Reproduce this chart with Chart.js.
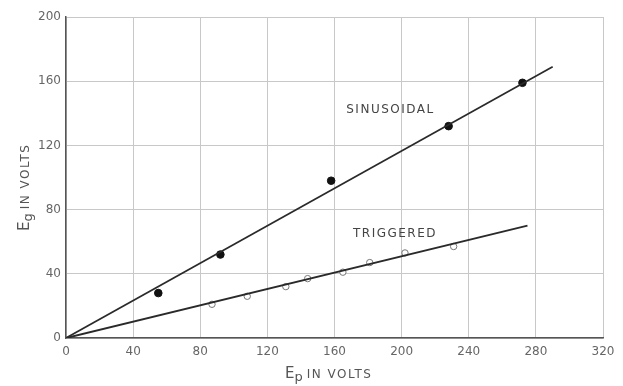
<!DOCTYPE html>
<html>
<head>
<meta charset="utf-8">
<script src="https://cdn.jsdelivr.net/npm/chart.js@4"></script>
<style>
  html, body { margin: 0; padding: 0; background: #fff; }
  #wrap { width: 623px; height: 386px; }
</style>
</head>
<body>
<div id="wrap"><canvas id="egChart"></canvas></div>
<script>
const sinusoidalEp = [55, 92, 158, 228, 272];
const sinusoidalEg = [28, 52, 98, 132, 159];
const triggeredEp = [87, 108, 131, 144, 165, 181, 202, 231];
const triggeredEg = [21, 26, 32, 37, 41, 47, 53, 57];

// straight fitted lines through the origin
const sinusoidalFitEp = [0, 290];
const sinusoidalFitEg = [0, 169];
const triggeredFitEp = [0, 275];
const triggeredFitEg = [0, 70];

const xTicks = [0, 40, 80, 120, 160, 200, 240, 280, 320];
const yTicks = [0, 40, 80, 120, 160, 200];

const toPoints = (xs, ys) => xs.map((x, i) => ({ x: x, y: ys[i] }));

const ink = '#555';
const font = '"DejaVu Sans", sans-serif';

// draws "E" + subscript + " IN VOLTS" starting at the current origin
function drawTitle(ctx, sub) {
  let x = 0;
  ctx.letterSpacing = '0px';
  ctx.font = '15px ' + font;
  ctx.fillText('E', x, 0);
  x += ctx.measureText('E').width;
  ctx.font = '13px ' + font;
  ctx.fillText(sub, x, 3);
  x += ctx.measureText(sub).width + 4;
  ctx.font = '12px ' + font;
  ctx.letterSpacing = '1.5px';
  ctx.fillText('IN VOLTS', x, 0);
}

// axis titles with subscripts + curve labels
const labelsPlugin = {
  id: 'labels',
  afterDraw(chart) {
    const ctx = chart.ctx;
    const xs = chart.scales.x, ys = chart.scales.y;

    ctx.save();
    ctx.fillStyle = ink;
    ctx.textBaseline = 'alphabetic';
    ctx.translate(285, 378);
    drawTitle(ctx, 'p');
    ctx.restore();

    ctx.save();
    ctx.fillStyle = ink;
    ctx.textBaseline = 'alphabetic';
    ctx.translate(29, 231);
    ctx.rotate(-Math.PI / 2);
    drawTitle(ctx, 'g');
    ctx.restore();

    ctx.save();
    ctx.fillStyle = '#444';
    ctx.font = '12px ' + font;
    ctx.letterSpacing = '1.5px';
    ctx.textBaseline = 'middle';
    ctx.fillText('SINUSOIDAL', xs.getPixelForValue(167), ys.getPixelForValue(142));
    ctx.fillText('TRIGGERED', xs.getPixelForValue(171), ys.getPixelForValue(65));
    ctx.restore();
  }
};

const config = {
  type: 'scatter',
  data: {
    datasets: [
      {
        label: 'Sinusoidal fit',
        data: toPoints(sinusoidalFitEp, sinusoidalFitEg),
        showLine: true,
        borderColor: '#2a2a2a',
        borderWidth: 1.7,
        pointRadius: 0
      },
      {
        label: 'Triggered fit',
        data: toPoints(triggeredFitEp, triggeredFitEg),
        showLine: true,
        borderColor: '#2a2a2a',
        borderWidth: 2,
        pointRadius: 0
      },
      {
        label: 'Sinusoidal',
        data: toPoints(sinusoidalEp, sinusoidalEg),
        pointRadius: 3.8,
        backgroundColor: '#111',
        borderColor: '#111'
      },
      {
        label: 'Triggered',
        data: toPoints(triggeredEp, triggeredEg),
        pointRadius: 3.2,
        backgroundColor: '#fff',
        borderColor: '#777',
        borderWidth: 1
      }
    ]
  },
  options: {
    responsive: true,
    maintainAspectRatio: false,
    animation: false,
    layout: { padding: { left: 0, top: 17, right: 20, bottom: 0 } },
    plugins: {
      legend: { display: false },
      tooltip: { enabled: false }
    },
    scales: {
      x: {
        type: 'linear',
        min: 0,
        max: 320,
        afterBuildTicks: s => { s.ticks = xTicks.map(v => ({ value: v })); },
        afterFit: s => { s.height = 48; },
        grid: { color: '#c8c8c8', lineWidth: 1, drawTicks: false },
        border: { color: '#555', width: 1.5 },
        ticks: { color: '#666', font: { family: font, size: 12 }, padding: 7 }
      },
      y: {
        min: 0,
        max: 200,
        afterBuildTicks: s => { s.ticks = yTicks.map(v => ({ value: v })); },
        afterFit: s => { s.width = 66; },
        grid: { color: '#c8c8c8', lineWidth: 1, drawTicks: false },
        border: { color: '#555', width: 1.5 },
        ticks: { color: '#666', font: { family: font, size: 12 }, padding: 5 }
      }
    }
  },
  plugins: [labelsPlugin]
};

new Chart(document.getElementById('egChart').getContext('2d'), config);
</script>
</body>
</html>
